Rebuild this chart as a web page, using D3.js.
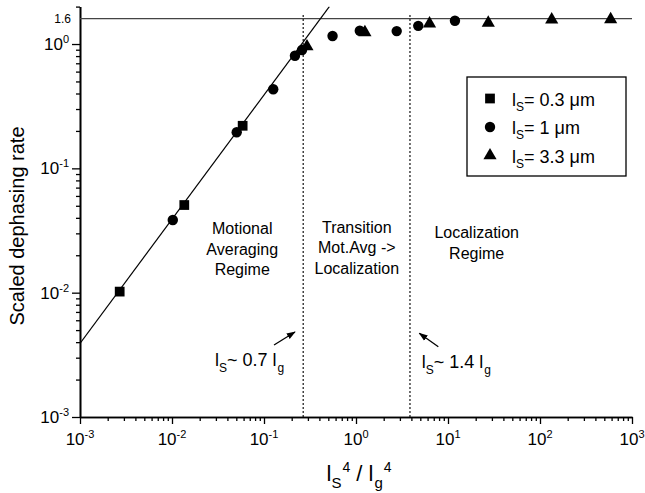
<!DOCTYPE html>
<html>
<head>
<meta charset="utf-8">
<script src="https://cdn.jsdelivr.net/npm/d3@7"></script>
<style>
body { margin: 0; background: #fff; }
svg { display: block; font-family: "Liberation Sans", Arial, sans-serif; }
</style>
</head>
<body>
<div id="chart"></div>
<script>
// values
var squareX = [0.0027, 0.0136, 0.0586];
var squareY = [0.0102, 0.0507, 0.220];
var circleX = [0.0102, 0.0505, 0.126, 0.217, 0.259, 0.556, 1.10, 2.77, 4.75, 11.9];
var circleY = [0.0384, 0.195, 0.433, 0.805, 0.896, 1.16, 1.28, 1.27, 1.40, 1.54];
var triangleX = [0.293, 1.25, 6.3, 27.4, 134, 586];
var triangleY = [0.955, 1.24, 1.46, 1.48, 1.57, 1.58];

var fitX = [0.001, 0.513];
var fitY = [0.0039, 2.0];
var plateauX = [0.001, 1000];
var plateauY = 1.6;
var boundaryX = [0.267, 3.86];

var xTickExp = ["-3", "-2", "-1", "0", "1", "2", "3"];
var yTickExp = ["-3", "-2", "-1", "0"];
var legendLabels = ["0.3 \u03bcm", "1 \u03bcm", "3.3 \u03bcm"];
var regimeText = [
  ["Motional", "Averaging", "Regime"],
  ["Transition", "Mot.Avg ->", "Localization"],
  ["Localization", "Regime"]
];
var regimeAt = [[0.058, 0.033], [1.02, 0.034], [20.5, 0.0306]];
var ratioLabel = ["0.7", "1.4"];
var ratioAt = [[0.0293, 0.00257], [5.18, 0.00248]];
var arrowFrom = [[0.1285, 0.00379], [7.85, 0.00367]];
var arrowTo = [[0.217, 0.00483], [4.88, 0.00471]];

var margin = {top: 6.6, right: 13, bottom: 76, left: 80};
var fullWidth = 645, fullHeight = 493;
var width = fullWidth - margin.left - margin.right;
var height = fullHeight - margin.top - margin.bottom;

var svg = d3.select("#chart").append("svg")
    .attr("width", fullWidth)
    .attr("height", fullHeight);

var defs = svg.append("defs");
defs.append("clipPath").attr("id", "plotClip")
  .append("rect").attr("width", width).attr("height", height);
defs.append("marker")
    .attr("id", "head")
    .attr("viewBox", "0 0 10 10")
    .attr("refX", 9).attr("refY", 5)
    .attr("markerWidth", 7).attr("markerHeight", 7)
    .attr("orient", "auto")
  .append("path").attr("d", "M0,1.5L10,5L0,8.5Z").attr("fill", "#000");

var g = svg.append("g")
    .attr("transform", "translate(" + margin.left + "," + margin.top + ")");

var x = d3.scaleLog().domain([1e-3, 1e3]).range([0, width]);
var y = d3.scaleLog().domain([1e-3, 2]).range([height, 0]);

var xMajor = xTickExp.map(function(e) { return Math.pow(10, +e); });
var yMajor = yTickExp.map(function(e) { return Math.pow(10, +e); });
var xMinor = x.ticks().filter(function(v) { return xMajor.indexOf(v) < 0; });
var yMinor = y.ticks().filter(function(v) { return yMajor.indexOf(v) < 0; });

// axes: minor and major ticks drawn separately so they get different lengths
function styleAxis(sel) {
  sel.selectAll("path.domain").attr("stroke", "#000").attr("stroke-width", 1.6);
  sel.selectAll(".tick line").attr("stroke", "#000").attr("stroke-width", 1.3);
}
g.append("g").attr("transform", "translate(0," + height + ")")
  .call(d3.axisBottom(x).tickValues(xMinor).tickSize(4).tickSizeOuter(0).tickFormat(""))
  .call(styleAxis);
g.append("g").attr("transform", "translate(0," + height + ")")
  .call(d3.axisBottom(x).tickValues(xMajor).tickSize(7).tickSizeOuter(0).tickFormat(""))
  .call(styleAxis);
g.append("g")
  .call(d3.axisLeft(y).tickValues(yMinor).tickSize(4).tickSizeOuter(0).tickFormat(""))
  .call(styleAxis);
g.append("g")
  .call(d3.axisLeft(y).tickValues(yMajor).tickSize(8).tickSizeOuter(0).tickFormat(""))
  .call(styleAxis);

// tick labels as 10 with superscript exponent
xTickExp.forEach(function(e, i) {
  var t = g.append("text")
      .attr("x", x(xMajor[i]))
      .attr("y", height + 28)
      .attr("text-anchor", "middle")
      .attr("font-size", 17);
  t.append("tspan").text("10");
  t.append("tspan").attr("font-size", 11).attr("dy", -7).text(e);
});
yTickExp.forEach(function(e, i) {
  var t = g.append("text")
      .attr("x", -11)
      .attr("y", y(yMajor[i]) + 6)
      .attr("text-anchor", "end")
      .attr("font-size", 17);
  t.append("tspan").text("10");
  t.append("tspan").attr("font-size", 11).attr("dy", -7).text(e);
});
g.append("text")
  .attr("x", -9)
  .attr("y", y(plateauY) + 4)
  .attr("text-anchor", "end")
  .attr("font-size", 12)
  .text(plateauY);

// axis titles
svg.append("text")
  .attr("transform", "translate(24," + (margin.top + y(0.0344)) + ") rotate(-90)")
  .attr("text-anchor", "middle")
  .attr("font-size", 20)
  .text("Scaled dephasing rate");

var xt = svg.append("text")
  .attr("x", margin.left + x(1.08))
  .attr("y", 481)
  .attr("text-anchor", "middle")
  .attr("font-size", 22);
xt.append("tspan").text("l");
xt.append("tspan").attr("font-size", 15).attr("dy", 7).text("S");
xt.append("tspan").attr("font-size", 14).attr("dy", -16).attr("dx", 1).text("4");
xt.append("tspan").attr("dy", 9).text(" / l");
xt.append("tspan").attr("font-size", 15).attr("dy", 7).attr("dx", 1).text("g");
xt.append("tspan").attr("font-size", 14).attr("dy", -16).attr("dx", 1).text("4");

// plateau line, boundaries
g.append("line")
  .attr("x1", x(plateauX[0])).attr("x2", x(plateauX[1]))
  .attr("y1", y(plateauY)).attr("y2", y(plateauY))
  .attr("stroke", "#444").attr("stroke-width", 1.3);

g.selectAll(".bound")
  .data(boundaryX)
  .enter().append("line")
  .attr("class", "bound")
  .attr("x1", function(d) { return x(d); })
  .attr("x2", function(d) { return x(d); })
  .attr("y1", y(1.7))
  .attr("y2", height)
  .attr("stroke", "#000")
  .attr("stroke-width", 1.5)
  .attr("stroke-dasharray", "1.5,2.5");

// fit line
var line = d3.line()
  .x(function(d) { return x(d[0]); })
  .y(function(d) { return y(d[1]); });
g.append("path")
  .datum(fitX.map(function(v, i) { return [v, fitY[i]]; }))
  .attr("clip-path", "url(#plotClip)")
  .attr("d", line)
  .attr("fill", "none")
  .attr("stroke", "#000")
  .attr("stroke-width", 1.2);

// markers
var shapes = [d3.symbolSquare, d3.symbolCircle, d3.symbolTriangle];
var sizes = [95, 85, 75];
var series = [
  {xs: squareX, ys: squareY},
  {xs: circleX, ys: circleY},
  {xs: triangleX, ys: triangleY}
];
series.forEach(function(s, k) {
  g.selectAll(".m" + k)
    .data(s.xs.map(function(v, i) { return [v, s.ys[i]]; }))
    .enter().append("path")
    .attr("class", "m" + k)
    .attr("transform", function(d) { return "translate(" + x(d[0]) + "," + y(d[1]) + ")"; })
    .attr("d", d3.symbol().type(shapes[k]).size(sizes[k]))
    .attr("fill", "#000");
});

// regime labels
regimeText.forEach(function(lines, i) {
  g.append("text")
    .attr("text-anchor", "middle")
    .attr("font-size", 16)
    .selectAll("tspan")
    .data(lines)
    .enter().append("tspan")
    .attr("x", x(regimeAt[i][0]))
    .attr("y", function(d, j) { return y(regimeAt[i][1]) + 6 + j * 20.5; })
    .text(function(d) { return d; });
});

// l_S ~ n l_g labels with arrows
ratioLabel.forEach(function(r, i) {
  var t = g.append("text")
    .attr("x", x(ratioAt[i][0]))
    .attr("y", y(ratioAt[i][1]))
    .attr("font-size", 18);
  t.append("tspan").text("l");
  t.append("tspan").attr("font-size", 12).attr("dy", 6).text("S");
  t.append("tspan").attr("dy", -6).text("~ " + r + " l");
  t.append("tspan").attr("font-size", 12).attr("dy", 6).attr("dx", 1).text("g");

  g.append("line")
    .attr("x1", x(arrowFrom[i][0])).attr("y1", y(arrowFrom[i][1]))
    .attr("x2", x(arrowTo[i][0])).attr("y2", y(arrowTo[i][1]))
    .attr("stroke", "#000").attr("stroke-width", 1.3)
    .attr("marker-end", "url(#head)");
});

// legend
var legend = svg.append("g").attr("transform", "translate(467,77)");
legend.append("rect")
  .attr("width", 159).attr("height", 99)
  .attr("fill", "#fff").attr("stroke", "#000").attr("stroke-width", 1.3);
var item = legend.selectAll(".legend")
  .data(legendLabels)
  .enter().append("g")
  .attr("class", "legend")
  .attr("transform", function(d, i) { return "translate(0," + (21.5 + i * 28.5) + ")"; });
item.append("path")
  .attr("transform", "translate(23,0)")
  .attr("d", function(d, i) { return d3.symbol().type(shapes[i]).size(sizes[i])(); })
  .attr("fill", "#000");
var lt = item.append("text")
  .attr("x", 45)
  .attr("y", 7)
  .attr("font-size", 18);
lt.append("tspan").text("l");
lt.append("tspan").attr("font-size", 12).attr("dy", 5).text("S");
lt.append("tspan").attr("dy", -5).text(function(d) { return "= " + d; });
</script>
</body>
</html>
